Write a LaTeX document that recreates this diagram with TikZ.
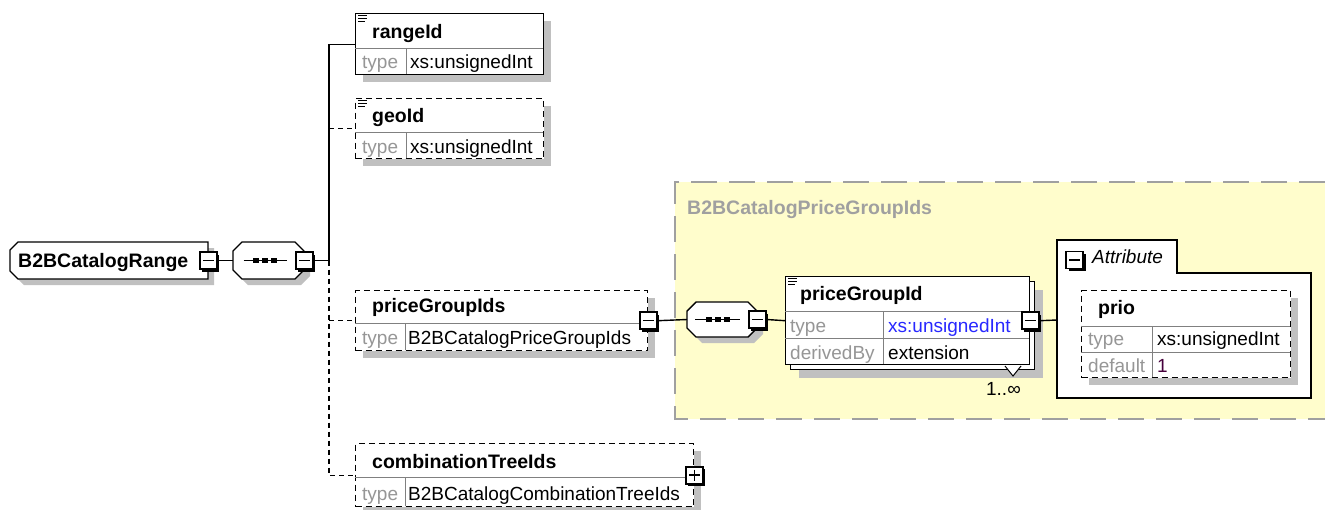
\documentclass[tikz,border=0pt]{standalone}
\usepackage{fontspec}
\setmainfont{Liberation Sans}
\usetikzlibrary{shadows}

\definecolor{regionfill}{RGB}{255,253,204}
\definecolor{regionline}{RGB}{160,160,160}
\definecolor{shadowgray}{RGB}{192,192,192}
\definecolor{keygray}{RGB}{150,150,150}
\definecolor{rowline}{RGB}{128,128,128}
\definecolor{typeblue}{RGB}{40,40,255}
\definecolor{valpurple}{RGB}{70,0,60}

\tikzset{
  conn/.style={line width=1.4pt},
  optconn/.style={conn, dash pattern=on 5pt off 4pt},
  boxshadow/.style={drop shadow={shadow xshift=7pt,shadow yshift=-7pt,fill=shadowgray,opacity=1}},
  elbox/.style={draw, fill=white, line width=1.4pt, inner sep=0pt, anchor=north west, boxshadow},
  optbox/.style={elbox, dash pattern=on 6pt off 4pt},
  multibox/.style={draw, fill=white, line width=1.4pt, inner sep=0pt, anchor=north west,
    drop shadow={shadow xshift=13pt,shadow yshift=-13pt,fill=shadowgray,opacity=1},
    copy shadow={shadow xshift=5pt,shadow yshift=-5pt,line width=1.4pt}},
  rowsep/.style={rowline, line width=1pt},
  ctrl/.style={draw, fill=white, line width=1.6pt, minimum size=17pt, inner sep=0pt,
    drop shadow={shadow xshift=2.5pt,shadow yshift=-2.5pt,fill=black,opacity=1}},
  minus/.style={ctrl, path picture={
    \draw[line width=1.5pt] ([xshift=3pt]path picture bounding box.west) -- ([xshift=-3pt]path picture bounding box.east);}},
  plus/.style={ctrl, path picture={
    \draw[line width=1.5pt] ([xshift=3pt]path picture bounding box.west) -- ([xshift=-3pt]path picture bounding box.east);
    \draw[line width=1.5pt] ([yshift=-3pt]path picture bounding box.north) -- ([yshift=3pt]path picture bounding box.south);}},
  anchorbox/.style={rectangle, inner sep=0pt, anchor=west},
  octline/.style={draw, fill=white, line width=1.4pt},
  octshadow/.style={fill=shadowgray, shift={(6,6)}},
  txt/.style={inner sep=0pt, anchor=base west, font=\fontsize{19}{22}\selectfont},
  elname/.style={txt, font=\fontsize{19.5}{22}\selectfont\bfseries},
  rowkey/.style={txt, text=keygray},
  rowval/.style={txt},
}

\begin{document}
\begin{tikzpicture}[x=1pt,y=-1pt]
\useasboundingbox (0,0) rectangle (1325,509);

% complex type region
\fill[regionfill] (675,182) rectangle (1325,419);
\draw[regionline, line width=1.5pt, dash pattern=on 26pt off 12pt]
  (1325,182) -- (675,182) -- (675,419) -- (1325,419);
\node[elname, text=regionline] (regTitle) at (687,214) {B2BCatalogPriceGroupIds};

% root element and its sequence
\node[anchorbox, minimum width=198pt, minimum height=37pt] (root) at (10,260.5) {};
\path[octshadow] (18,242) -- (208,242) -- (208,279) -- (18,279) -- (10,271) -- (10,250) -- cycle;
\path[octline] (18,242) -- (208,242) -- (208,279) -- (18,279) -- (10,271) -- (10,250) -- cycle;
\node[elname] (rootName) at (18,267) {B2BCatalogRange};
\node[minus] (rootM) at (root.east) {};

\node[anchorbox, minimum width=71pt, minimum height=37pt] (seq1) at (233,260.5) {};
\path[octshadow] (242,242) -- (295,242) -- (304,251) -- (304,270) -- (295,279) -- (242,279) -- (233,270) -- (233,251) -- cycle;
\path[octline] (242,242) -- (295,242) -- (304,251) -- (304,270) -- (295,279) -- (242,279) -- (233,270) -- (233,251) -- cycle;
\node[minus] (seq1M) at (seq1.east) {};
\draw[line width=1.4pt] ([xshift=-25pt]seq1.center) -- ([xshift=18pt]seq1.center);
\foreach \d in {-12.5,-3.5,5.5}
  \fill ([xshift=\d pt-3pt,yshift=-2.5pt]seq1.center) rectangle +(6,-5);
\draw[conn] (rootM.east) -- (seq1.west);

% rangeId
\node[elbox, minimum width=188pt, minimum height=61pt] (rangeId) at (355,13) {};
\draw[rowsep] (355,48) -- (543,48) (406,48) -- (406,74);
\node[elname] (rangeIdName) at (372,38) {rangeId};
\node[rowkey] (rangeIdKey) at (362,68) {type};
\node[rowval] (rangeIdVal) at (410,68) {xs:unsignedInt};

% geoId
\node[optbox, minimum width=188pt, minimum height=60pt] (geoId) at (355,98) {};
\draw[rowsep] (355,132) -- (543,132) (406,132) -- (406,158);
\node[elname] (geoIdName) at (372,122) {geoId};
\node[rowkey] (geoIdKey) at (362,153) {type};
\node[rowval] (geoIdVal) at (410,153) {xs:unsignedInt};

% priceGroupIds
\node[optbox, minimum width=292pt, minimum height=60pt] (priceGroupIds) at (355,290) {};
\draw[rowsep] (355,323) -- (647,323) (405,323) -- (405,350);
\node[elname] (pgIdsName) at (372,312) {priceGroupIds};
\node[rowkey] (pgIdsKey) at (362,344) {type};
\node[rowval] (pgIdsVal) at (408,344) {B2BCatalogPriceGroupIds};
\node[minus] (pgIdsM) at (priceGroupIds.east) {};

% combinationTreeIds
\node[optbox, minimum width=338pt, minimum height=63pt] (comboIds) at (355,443) {};
\draw[rowsep] (355,477) -- (693,477) (405,477) -- (405,506);
\node[elname] (comboName) at (372,468) {combinationTreeIds};
\node[rowkey] (comboKey) at (362,500) {type};
\node[rowval] (comboVal) at (408,500) {B2BCatalogCombinationTreeIds};
\node[plus] (comboP) at (comboIds.east) {};

% trunk
\coordinate (trunk) at (329,260.5);
\draw[conn] (seq1M.east) -- (trunk) |- (rangeId.west);
\draw[optconn] (trunk |- geoId.west) -- (geoId.west);
\draw[optconn] (trunk |- priceGroupIds.west) -- (priceGroupIds.west);
\draw[optconn] (trunk) -- (trunk |- comboIds.west) -- (comboIds.west);

% sequence of priceGroupId
\node[anchorbox, minimum width=70pt, minimum height=35pt] (seq2) at (687,319.5) {};
\path[octshadow] (696,302) -- (748,302) -- (757,311) -- (757,328) -- (748,337) -- (696,337) -- (687,328) -- (687,311) -- cycle;
\path[octline] (696,302) -- (748,302) -- (757,311) -- (757,328) -- (748,337) -- (696,337) -- (687,328) -- (687,311) -- cycle;
\node[minus] (seq2M) at (seq2.east) {};
\draw[line width=1.4pt] ([xshift=-27pt]seq2.center) -- ([xshift=18pt]seq2.center);
\foreach \d in {-13,-4,5}
  \fill ([xshift=\d pt-3pt,yshift=-2.5pt]seq2.center) rectangle +(6,-5);
\draw[conn] (pgIdsM.east) -- (seq2.west);

% priceGroupId
\node[multibox, minimum width=244pt, minimum height=88pt] (pgId) at (785,276) {};
\draw[rowsep] (785,311) -- (1029,311) (785,338) -- (1029,338) (883,311) -- (883,364);
\node[elname] (pgIdName) at (800,300) {priceGroupId};
\node[rowkey] (pgIdKey) at (790,332) {type};
\node[rowval, text=typeblue] (pgIdVal) at (888,332) {xs:unsignedInt};
\node[rowkey] (pgIdKey2) at (790,359) {derivedBy};
\node[rowval] (pgIdVal2) at (888,359) {extension};
\node[minus] (pgIdM) at (pgId.east) {};
\draw[line width=1pt, fill=white] (1005,366) -- (1013,376) -- (1021,366);
\node[txt, anchor=base east] (card) at (1021,395) {1..∞};
\draw[conn] (seq2M.east) -- (pgId.west);

% attributes
\draw[fill=white, line width=1.4pt] (1057,398) -- (1057,240) -- (1177,240)
  -- (1177,273) -- (1311,273) -- (1311,398) -- cycle;
\node[minus] (attrM) at (1074.5,260) {};
\node[txt, font=\fontsize{19}{22}\selectfont\itshape] (attrName) at (1092,263) {Attribute};
\coordinate (attrIn) at (1057,320);
\draw[conn] (pgIdM.east) -- (attrIn);

% prio
\node[optbox, minimum width=209pt, minimum height=87pt] (prio) at (1081,290) {};
\draw[rowsep] (1081,326) -- (1290,326) (1081,352) -- (1290,352) (1152,326) -- (1152,377);
\node[elname] (prioName) at (1098,314) {prio};
\node[rowkey] (prioKey) at (1088,345) {type};
\node[rowval] (prioVal) at (1157,345) {xs:unsignedInt};
\node[rowkey] (prioKey2) at (1088,372) {default};
\node[rowval, text=valpurple] (prioVal2) at (1157,372) {1};

% simple type marks
\foreach \b in {rangeId,geoId,pgId}
  \foreach \dy/\len in {2/9,5/9,8/7}
    \draw[line width=1pt] ([xshift=3pt,yshift=-\dy pt]\b.north west) -- ++(\len,0);
\end{tikzpicture}
\end{document}
